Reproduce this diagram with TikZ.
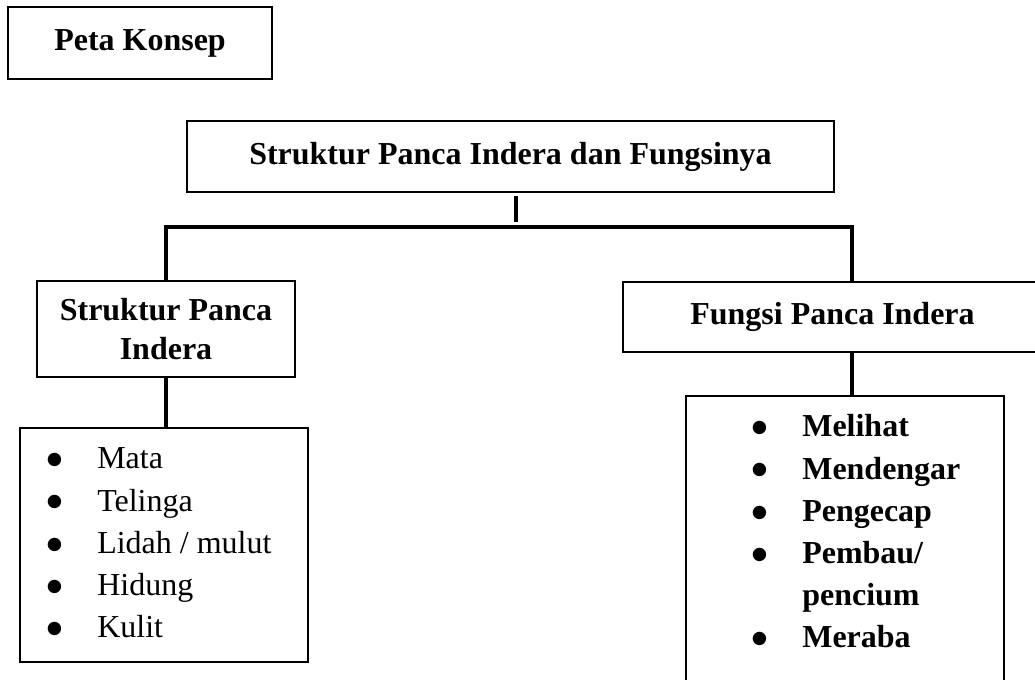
\documentclass[tikz,border=0pt]{standalone}
\usepackage{fontspec}
\setmainfont{Liberation Serif}
\newfontfamily\symfont{DejaVu Sans}

\newcommand{\dotmark}{\hspace*{-2pt}\raisebox{2.4pt}{\symfont\fontsize{10}{10}\selectfont ●}}

\begin{document}
\begin{tikzpicture}[
  font=\fontsize{18.2}{22}\selectfont,
  box/.style={draw=black, line width=1.2pt, inner sep=0pt, align=center},
  headbox/.style={box, font=\fontsize{18.2}{22}\selectfont\bfseries},
  items/.style={inner sep=0pt, anchor=base west, font=\fontsize{18.2}{24}\selectfont},
  link/.style={draw=black, line width=2.2pt}
]

\useasboundingbox (0,0) rectangle (20.7,-13.6);
\clip (0,0) rectangle (20.7,-13.6);

%% ---------- heading ----------
\node[headbox, minimum width=5.28cm, minimum height=1.44cm] (peta) at (2.80,-0.86) {Peta Konsep};

%% ---------- top concept ----------
\node[headbox, minimum width=12.94cm, minimum height=1.42cm] (main) at (10.21,-3.13) {Struktur Panca Indera dan Fungsinya};

%% ---------- two branches ----------
\node[headbox, minimum width=5.16cm, minimum height=1.92cm] (struktur) at (3.32,-6.58) {Struktur Panca\\Indera};
\node[headbox, minimum width=8.38cm, minimum height=1.40cm] (fungsi) at (16.65,-6.34) {Fungsi Panca Indera};

%% ---------- leaves ----------
\node[box, minimum width=5.76cm, minimum height=4.68cm] (organ) at (3.28,-10.90) {};
\node[box, minimum width=6.36cm, minimum height=6.48cm] (kegunaan) at (16.90,-11.16) {};

\node[items] (organlist) at ([xshift=0.62cm,yshift=-0.84cm]organ.north west) {%
  \begin{tabular}[t]{@{}p{0.94cm}@{}l@{}}
    \dotmark & Mata\\
    \dotmark & Telinga\\
    \dotmark & Lidah / mulut\\
    \dotmark & Hidung\\
    \dotmark & Kulit
  \end{tabular}};

\node[items] (kegunaanlist) at ([xshift=1.40cm,yshift=-0.84cm]kegunaan.north west) {%
  \bfseries
  \begin{tabular}[t]{@{}p{0.94cm}@{}l@{}}
    \dotmark & Melihat\\
    \dotmark & Mendengar\\
    \dotmark & Pengecap\\
    \dotmark & Pembau/\\
             & pencium\\
    \dotmark & Meraba
  \end{tabular}};

%% ---------- connectors ----------
\coordinate (bar)   at (10.32,-4.54);
\coordinate (rjoin) at (17.04,-4.54);

\draw[link, shorten <=1.7pt, shorten >=2.8pt] (main.south -| bar) -- (bar);
\draw[link] (struktur.north) |- (rjoin) -- (rjoin |- fungsi.north);
\draw[link] (struktur.south) -- (struktur.south |- organ.north);
\draw[link] (rjoin |- fungsi.south) -- (rjoin |- kegunaan.north);

\end{tikzpicture}
\end{document}
